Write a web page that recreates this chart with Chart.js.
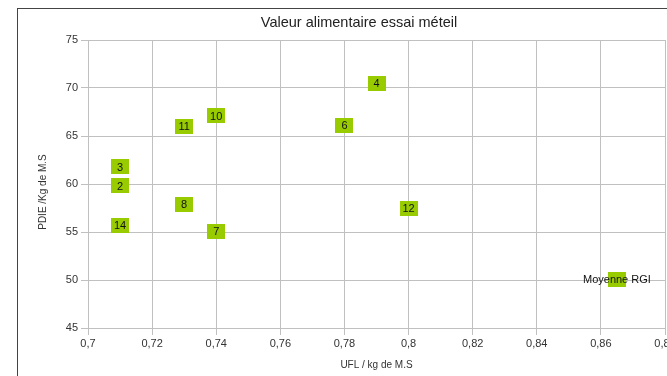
<!DOCTYPE html>
<html>
<head>
<meta charset="utf-8">
<script src="https://cdn.jsdelivr.net/npm/chart.js@4/dist/chart.umd.min.js"></script>
<style>
  html, body { margin: 0; padding: 0; background: #fff; overflow: hidden; }
  #wrap { position: absolute; left: 0; top: 0; width: 714px; height: 376px; }
</style>
</head>
<body>
<div id="wrap"><canvas id="chartCanvas" width="714" height="376"></canvas></div>
<script>
  var chartTitle = 'Valeur alimentaire essai méteil';
  var yTitle = 'PDIE /Kg de M.S';
  var pointNames = ['2', '3', '4', '6', '7', '8', '10', '11', '12', '14', 'Moyenne RGI'];
  var uflValues = [0.71, 0.71, 0.79, 0.78, 0.74, 0.73, 0.74, 0.73, 0.80, 0.71, 0.865];
  var pdieValues = [59.8, 61.8, 70.5, 66.1, 55.1, 57.9, 67.1, 66.0, 57.5, 55.7, 50.1];
  var xTicks = [0.7, 0.72, 0.74, 0.76, 0.78, 0.8, 0.82, 0.84, 0.86, 0.88];
  var yTicks = [45, 50, 55, 60, 65, 70, 75];

  var GREEN = '#99cc00';
  var GRID = '#c0c0c0';
  var FONT = '"Liberation Sans", Arial, sans-serif';

  // green box used as marker
  var marker = document.createElement('canvas');
  marker.width = 18;
  marker.height = 15;
  var mctx = marker.getContext('2d');
  mctx.fillStyle = GREEN;
  mctx.fillRect(0, 0, 18, 15);

  function fmt(v) {
    return String(Number(Number(v).toFixed(2))).replace('.', ',');
  }

  // outer frame, main title and y title
  var framePlugin = {
    id: 'frame',
    beforeDraw: function (chart) {
      var ctx = chart.ctx;
      ctx.save();
      ctx.strokeStyle = '#444';
      ctx.lineWidth = 1;
      ctx.strokeRect(17.5, 8.5, 680, 400);
      ctx.font = '14.5px ' + FONT;
      ctx.fillStyle = '#222';
      ctx.textAlign = 'center';
      ctx.textBaseline = 'middle';
      ctx.fillText(chartTitle, 359, 22.5);
      ctx.translate(43, 192);
      ctx.rotate(-Math.PI / 2);
      ctx.font = '10px ' + FONT;
      ctx.fillStyle = '#333';
      ctx.fillText(yTitle, 0, 0);
      ctx.restore();
    }
  };

  var labelPlugin = {
    id: 'pointLabels',
    afterDatasetsDraw: function (chart) {
      var ctx = chart.ctx;
      var meta = chart.getDatasetMeta(0);
      ctx.save();
      ctx.font = '11px ' + FONT;
      ctx.fillStyle = '#111';
      ctx.textAlign = 'center';
      ctx.textBaseline = 'middle';
      meta.data.forEach(function (pt, i) {
        ctx.fillText(pointNames[i], pt.x, pt.y + 1);
      });
      ctx.restore();
    }
  };

  var points = uflValues.map(function (x, i) { return { x: x, y: pdieValues[i] }; });

  new Chart(document.getElementById('chartCanvas').getContext('2d'), {
    type: 'scatter',
    data: {
      datasets: [{
        data: points,
        pointStyle: marker,
        pointRadius: 9,
        pointHoverRadius: 9,
        backgroundColor: GREEN,
        borderColor: GREEN
      }]
    },
    options: {
      responsive: false,
      animation: false,
      layout: { padding: { left: 0, right: 49, top: 40, bottom: 0 } },
      plugins: {
        legend: { display: false },
        tooltip: { enabled: false },
        title: { display: false }
      },
      scales: {
        x: {
          type: 'linear',
          min: 0.7,
          max: 0.88,
          afterBuildTicks: function (scale) {
            scale.ticks = xTicks.map(function (v) { return { value: v }; });
          },
          afterFit: function (scale) { scale.height = 48; },
          ticks: {
            color: '#333',
            padding: 2,
            maxRotation: 0,
            font: { family: FONT, size: 11 },
            callback: function (v) { return fmt(v); }
          },
          grid: { color: GRID, tickLength: 7 },
          border: { color: GRID },
          title: {
            display: true,
            text: 'UFL / kg de M.S',
            color: '#333',
            font: { family: FONT, size: 10 },
            padding: { top: 0, bottom: 5 }
          }
        },
        y: {
          type: 'linear',
          min: 45,
          max: 75,
          afterBuildTicks: function (scale) {
            scale.ticks = yTicks.map(function (v) { return { value: v }; });
          },
          afterFit: function (scale) { scale.width = 88; },
          ticks: {
            color: '#333',
            padding: 3,
            font: { family: FONT, size: 11 }
          },
          grid: { color: GRID, tickLength: 7 },
          border: { color: GRID },
          title: { display: false }
        }
      }
    },
    plugins: [framePlugin, labelPlugin]
  });
</script>
</body>
</html>
